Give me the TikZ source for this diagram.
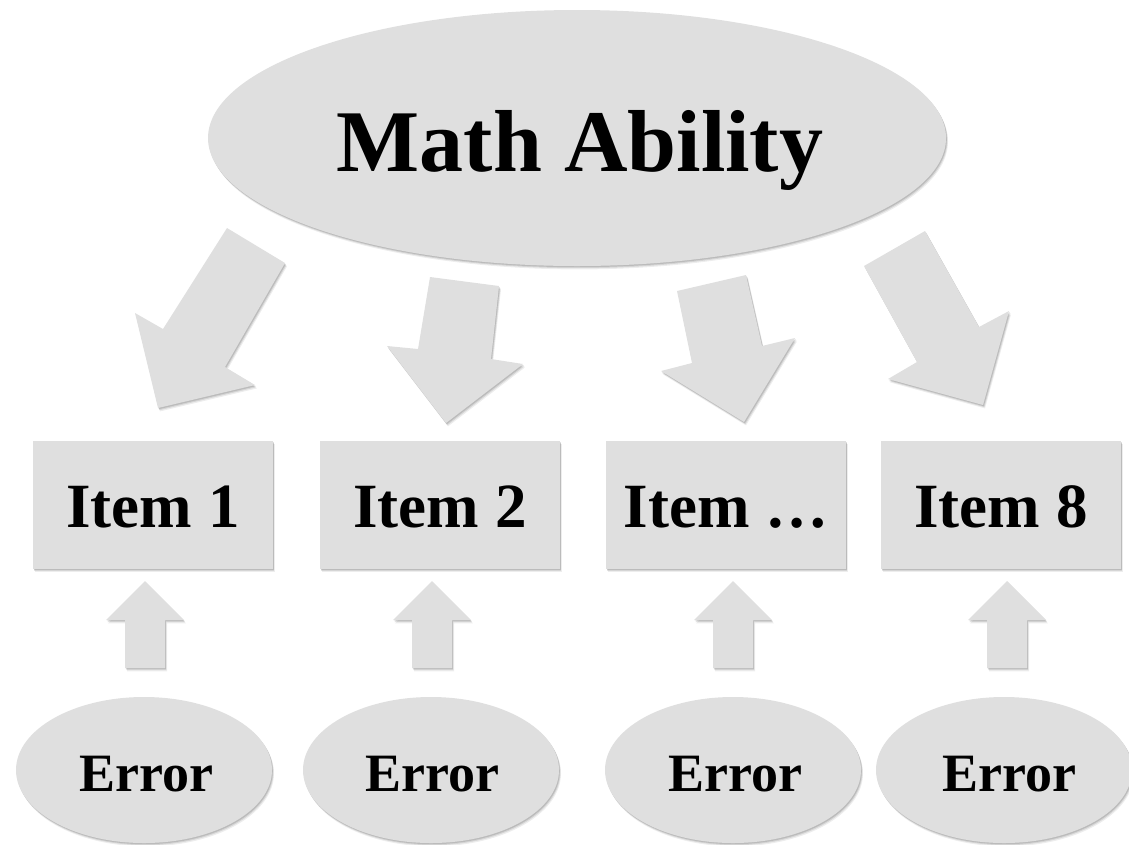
\documentclass[tikz,border=0pt]{standalone}
\usepackage{fontspec}
\setmainfont{Liberation Serif}
\usetikzlibrary{shapes.geometric,shadows,calc}
\definecolor{shapegray}{RGB}{223,223,223}
\tikzset{
  shade3/.style={
    general shadow={shadow xshift=0.8pt,shadow yshift=-1.2pt,opacity=0.12,fill=black},
    general shadow={shadow xshift=1.4pt,shadow yshift=-2.2pt,opacity=0.10,fill=black},
    general shadow={shadow xshift=2pt,shadow yshift=-3.4pt,opacity=0.07,fill=black}},
  shp/.style={fill=shapegray,draw=none,shade3},
  bigell/.style={shp,ellipse,minimum width=738pt,minimum height=256pt,inner sep=0pt},
  itembox/.style={shp,rectangle,minimum width=240pt,minimum height=128pt,inner sep=0pt},
  errell/.style={shp,ellipse,minimum width=256pt,minimum height=146pt,inner sep=0pt},
  lbl/.style={anchor=base,inner sep=0pt,text=black},
  bigfont/.style={font=\fontsize{88}{96}\selectfont\bfseries},
  itemfont/.style={font=\fontsize{63}{70}\selectfont\bfseries},
  errfont/.style={font=\fontsize{54}{60}\selectfont\bfseries},
  blockarrow/.style={fill=shapegray,draw=none,shade3},
}
\newcommand{\uparr}[1]{%
  \fill[blockarrow] ($(#1)+(0,-88)$) -- ++(39,39) -- ++(-19,0) -- ++(0,48) -- ++(-40,0) -- ++(0,-48) -- ++(-19,0) -- cycle;}
\begin{document}
\begin{tikzpicture}[x=1pt,y=-1pt]
\useasboundingbox (0,0) rectangle (1129,844);
% main latent
\node[bigell] (ability) at (577,138) {};
\node[lbl,bigfont] (abilityT) at (580,171) {Math Ability};
% items
\node[itembox] (i1) at (153,505) {};
\node[itembox] (i2) at (440,505) {};
\node[itembox] (i3) at (726,505) {};
\node[itembox] (i4) at (1001,505) {};
\node[lbl,itemfont] (i1T) at (153,527) {Item 1};
\node[lbl,itemfont] (i2T) at (440,527) {Item 2};
\node[lbl,itemfont] (i3T) at (726,527) {Item …};
\node[lbl,itemfont] (i4T) at (1001,527) {Item 8};
% errors
\node[errell] (e1) at (144,770) {};
\node[errell] (e2) at (431,770) {};
\node[errell] (e3) at (733,770) {};
\node[errell] (e4) at (1004,770) {};
\node[lbl,errfont] (e1T) at (146,791) {Error};
\node[lbl,errfont] (e2T) at (432,791) {Error};
\node[lbl,errfont] (e3T) at (735,791) {Error};
\node[lbl,errfont] (e4T) at (1009,791) {Error};
% small up arrows (error -> item)
\coordinate (u1) at (145,669);
\coordinate (u2) at (432,669);
\coordinate (u3) at (733,669);
\coordinate (u4) at (1007,669);
\uparr{u1}\uparr{u2}\uparr{u3}\uparr{u4}
% big block arrows (ability -> items)
\fill[blockarrow] (227,228) -- (285,263) -- (225,367) -- (255,385) -- (158,408) -- (135,313) -- (163,329) -- cycle;
\fill[blockarrow] (430,277) -- (499,286) -- (491,359) -- (523,364) -- (446,423) -- (387,346) -- (418,349) -- cycle;
\fill[blockarrow] (677,291) -- (746,275) -- (762,346) -- (795,338) -- (744,422) -- (661,371) -- (692,363) -- cycle;
\fill[blockarrow] (864,266) -- (925,231) -- (979,327) -- (1009,311) -- (983,405) -- (888,379) -- (917,362) -- cycle;
\end{tikzpicture}
\end{document}
